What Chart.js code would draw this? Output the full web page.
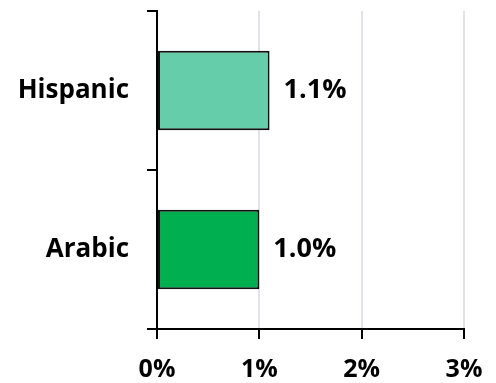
<!DOCTYPE html>
<html lang="en">
<head>
    <meta charset="UTF-8">
    <title>Share by group</title>
    <script src="https://cdn.jsdelivr.net/npm/chart.js"></script>
    <style>
        html, body {
            margin: 0;
            padding: 0;
            background: #ffffff;
        }

        .wrap {
            width: 496px;
            height: 383px;
        }
    </style>
</head>
<body>
    <div class="wrap">
        <canvas id="groupChart" width="496" height="383"></canvas>
    </div>

    <script>
        const groups = ["Hispanic", "Arabic"];
        const shares = [1.1, 1.0];
        const barColors = ["#66CDAA", "#00B050"];
        const xTicks = [0, 1, 2, 3];

        const fontFamily = "'Open Sans', sans-serif";

        // writes the value next to the end of each bar
        const valueLabels = {
            id: "valueLabels",
            afterDatasetsDraw(chart) {
                const ctx = chart.ctx;
                const meta = chart.getDatasetMeta(0);
                ctx.save();
                ctx.font = "bold 27px " + fontFamily;
                ctx.fillStyle = "#000000";
                ctx.textAlign = "left";
                ctx.textBaseline = "middle";
                meta.data.forEach((bar, i) => {
                    ctx.fillText(shares[i].toFixed(1) + "%", bar.x + 14, bar.y);
                });
                ctx.restore();
            }
        };

        const ctx = document.getElementById("groupChart").getContext("2d");
        new Chart(ctx, {
            type: "bar",
            data: {
                labels: groups,
                datasets: [{
                    data: shares,
                    backgroundColor: barColors,
                    borderColor: "#111111",
                    borderWidth: 2,
                    borderSkipped: false,
                    barPercentage: 0.5,
                    categoryPercentage: 1
                }]
            },
            options: {
                indexAxis: "y",
                responsive: false,
                animation: false,
                layout: {
                    padding: { top: 11, right: 32, left: 0, bottom: 0 }
                },
                plugins: {
                    legend: { display: false },
                    tooltip: { enabled: false }
                },
                scales: {
                    x: {
                        min: 0,
                        max: 3,
                        afterBuildTicks(axis) {
                            axis.ticks = xTicks.map(v => ({ value: v }));
                        },
                        afterFit(axis) {
                            axis.height = 54;
                            axis.paddingLeft = 0;
                            axis.paddingRight = 0;
                        },
                        grid: {
                            color: "#e0e3ec",
                            lineWidth: 2,
                            tickColor: "#000000",
                            tickLength: 10
                        },
                        border: { color: "#000000", width: 2 },
                        ticks: {
                            color: "#000000",
                            font: { family: fontFamily, size: 25, weight: "bold" },
                            padding: 16,
                            maxRotation: 0,
                            callback: v => v + "%"
                        }
                    },
                    y: {
                        afterFit(axis) {
                            axis.width = 157;
                            // labels sit mid-band, no extra room needed above/below
                            axis.paddingTop = 0;
                            axis.paddingBottom = 0;
                        },
                        grid: {
                            offset: true,
                            drawOnChartArea: false,
                            tickColor: "#000000",
                            tickLength: 10,
                            lineWidth: 2
                        },
                        border: { color: "#000000", width: 2 },
                        ticks: {
                            color: "#000000",
                            font: { family: fontFamily, size: 26, weight: "bold" },
                            padding: 18
                        }
                    }
                }
            },
            plugins: [valueLabels]
        });
    </script>
</body>
</html>
